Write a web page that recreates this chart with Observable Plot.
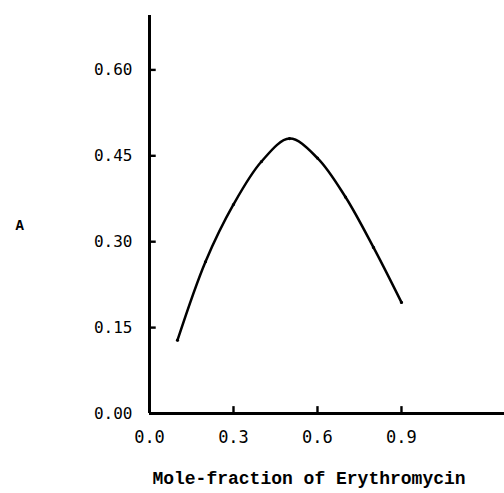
<!DOCTYPE html>
<html>
<head>
<meta charset="utf-8">
<script src="https://cdn.jsdelivr.net/npm/d3@7"></script>
<script src="https://cdn.jsdelivr.net/npm/@observablehq/plot@0.6"></script>
<style>
  html, body { margin: 0; padding: 0; background: #fff; }
  #chart svg { display: block; }
</style>
</head>
<body>
<div id="chart"></div>
<script>
// Data
const moleFraction = [0.1, 0.2, 0.3, 0.4, 0.5, 0.6, 0.7, 0.8, 0.9];
const absorbance   = [0.128, 0.265, 0.365, 0.440, 0.480, 0.446, 0.378, 0.290, 0.194];
const xTicks = [0.0, 0.3, 0.6, 0.9];
const yTicks = [0.00, 0.15, 0.30, 0.45, 0.60];
const xLabel = "Mole-fraction of Erythromycin";
const yLabel = "A";

const data = moleFraction.map((x, i) => ({x, y: absorbance[i]}));

const chart = Plot.plot({
  width: 504,
  height: 493,
  marginLeft: 149,
  marginRight: 0,
  marginTop: 15,
  marginBottom: 80,
  style: {fontFamily: "'DejaVu Sans Mono', monospace", fontSize: "16px", color: "#000", background: "#fff"},
  x: {domain: [0, 1.268]},
  y: {domain: [0, 0.695]},
  marks: [
    // tick labels
    Plot.axisY({ticks: yTicks, tickFormat: d3.format(".2f"), tickSize: 0, tickPadding: 17, label: null, fontSize: 16, letterSpacing: 2.2}),
    Plot.axisX({ticks: xTicks, tickFormat: d3.format(".1f"), tickSize: 0, tickPadding: 17, label: null, fontSize: 17, letterSpacing: 2}),
    // inward tick marks
    Plot.ruleY(yTicks, {y: d => d, x1: 0, x2: 0.024, strokeWidth: 2.4, stroke: "#000"}),
    Plot.ruleX(xTicks, {x: d => d, y1: 0, y2: 0.012, strokeWidth: 2.4, stroke: "#000"}),
    // axis lines
    Plot.ruleX([0], {strokeWidth: 3, y1: 0, y2: 0.695}),
    Plot.ruleY([0], {strokeWidth: 3}),
    Plot.line(data, {x: "x", y: "y", curve: "catmull-rom", strokeWidth: 2.5, stroke: "#000"}),
    Plot.dot(data, {x: "x", y: "y", r: 1.6, fill: "#000"}),
    Plot.text([yLabel], {frameAnchor: "left", dx: -134, dy: 11, textAnchor: "start", fontFamily: "'Liberation Mono', monospace", fontWeight: "bold", fontSize: 14}),
    Plot.text([xLabel], {frameAnchor: "bottom", dy: 70, dx: -18, fontFamily: "'Liberation Mono', monospace", fontWeight: "bold", fontSize: 18})
  ]
});
document.getElementById("chart").appendChild(chart);
</script>
</body>
</html>
